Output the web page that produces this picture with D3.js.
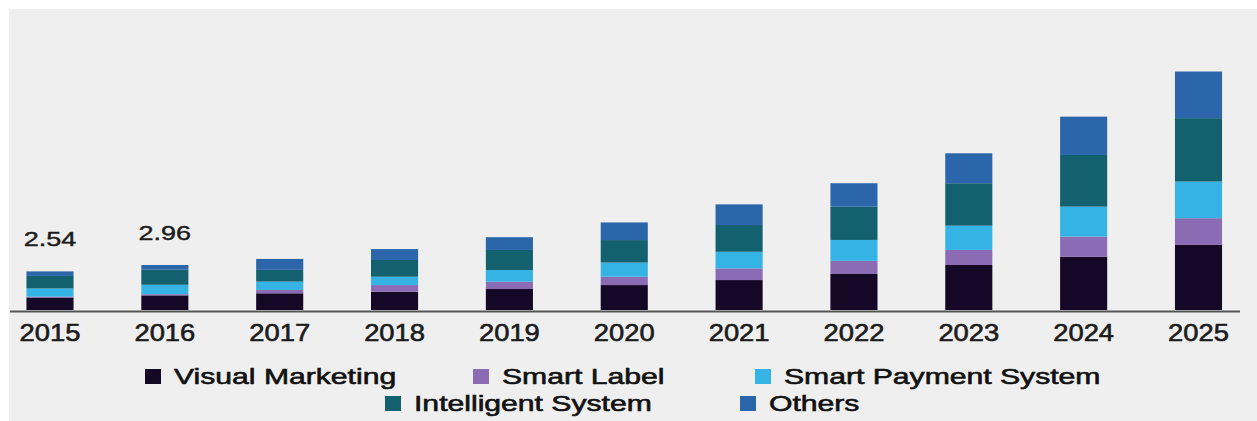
<!DOCTYPE html>
<html>
<head>
<meta charset="utf-8">
<script src="https://cdn.jsdelivr.net/npm/d3@7/dist/d3.min.js"></script>
<style>
  html, body { margin: 0; padding: 0; background: #ffffff; }
  svg { display: block; }
  .year { font-family: "Liberation Sans", Arial, sans-serif; font-size: 24px; fill: #1b1b1b; stroke: #1b1b1b; stroke-width: 0.6px; }
  .total { font-family: "Liberation Sans", Arial, sans-serif; font-size: 20px; fill: #1b1b1b; stroke: #1b1b1b; stroke-width: 0.4px; }
  .legend text { font-family: "Liberation Sans", Arial, sans-serif; font-size: 22px; fill: #111; stroke: #111; stroke-width: 0.6px; }
</style>
</head>
<body>
<div id="chart"></div>
<script>
// categories and values (USD billion)
var years = ["2015", "2016", "2017", "2018", "2019", "2020", "2021", "2022", "2023", "2024", "2025"];
var visualMarketing   = [0.82, 0.96, 1.10, 1.20, 1.38, 1.64, 1.97, 2.37, 2.96, 3.51, 4.28];
var smartLabel        = [0.06, 0.08, 0.22, 0.44, 0.48, 0.55, 0.77, 0.86, 0.99, 1.32, 1.76];
var smartPayment      = [0.54, 0.62, 0.55, 0.55, 0.77, 0.93, 1.09, 1.38, 1.60, 1.97, 2.41];
var intelligentSystem = [0.82, 1.00, 0.77, 1.10, 1.32, 1.48, 1.76, 2.19, 2.79, 3.40, 4.17];
var others            = [0.30, 0.30, 0.72, 0.72, 0.84, 1.16, 1.36, 1.54, 1.97, 2.52, 3.07];

var seriesNames = ["Visual Marketing", "Smart Label", "Smart Payment System", "Intelligent System", "Others"];
var seriesKeys = ["vm", "sl", "sp", "is", "ot"];
var seriesColors = ["#150826", "#8a6bb4", "#35b3e4", "#13606e", "#2b66ab"];

// only the first two totals are printed on the chart
var totalLabels = ["2.54", "2.96"];

var W = 1257, H = 421;

var svg = d3.select("#chart").append("svg")
  .attr("width", W)
  .attr("height", H);

// grey panel with thin white border top/left
svg.append("rect")
  .attr("x", 9).attr("y", 9)
  .attr("width", W - 9).attr("height", H - 9)
  .attr("fill", "#efefef");

// build rows for the stack
var rows = years.map(function (y, i) {
  return {
    year: y,
    vm: visualMarketing[i],
    sl: smartLabel[i],
    sp: smartPayment[i],
    is: intelligentSystem[i],
    ot: others[i]
  };
});

var stacked = d3.stack().keys(seriesKeys)(rows);

// scales
var step = 114.85;
var x = d3.scaleBand()
  .domain(years)
  .range([50 - step / 2, 50 + step * (years.length - 0.5)])
  .paddingInner(0.59)
  .paddingOuter(0.295);

var y = d3.scaleLinear()
  .domain([0, 16])
  .range([310, 310 - 16 * 15.2]);

var color = d3.scaleOrdinal().domain(seriesKeys).range(seriesColors);

// bars
svg.append("g")
  .selectAll("g")
  .data(stacked)
  .join("g")
  .attr("fill", function (d) { return color(d.key); })
  .selectAll("rect")
  .data(function (d) { return d; })
  .join("rect")
  .attr("x", function (d) { return x(d.data.year); })
  .attr("y", function (d) { return y(d[1]); })
  .attr("height", function (d) { return y(d[0]) - y(d[1]); })
  .attr("width", x.bandwidth());

// axis baseline
svg.append("line")
  .attr("x1", 10).attr("x2", 1240)
  .attr("y1", y(0) + 1.5).attr("y2", y(0) + 1.5)
  .attr("stroke", "#555")
  .attr("stroke-width", 2);

// year labels
svg.append("g")
  .selectAll("text")
  .data(years)
  .join("text")
  .attr("class", "year")
  .attr("text-anchor", "middle")
  .attr("transform", function (d) {
    return "translate(" + (x(d) + x.bandwidth() / 2) + ",341) scale(1.14,1)";
  })
  .text(function (d) { return d; });

// total labels above the first bars
svg.append("g")
  .selectAll("text")
  .data(totalLabels)
  .join("text")
  .attr("class", "total")
  .attr("text-anchor", "middle")
  .attr("transform", function (d, i) {
    return "translate(" + (x(years[i]) + x.bandwidth() / 2) + "," + (y(+d) - 25) + ") scale(1.35,1)";
  })
  .text(function (d) { return d; });

// legend
var legendPos = [
  { sx: 145, row: 0 },
  { sx: 473, row: 0 },
  { sx: 755, row: 0 },
  { sx: 385, row: 1 },
  { sx: 740, row: 1 }
];
var rowBase = [384, 411];

var legend = svg.append("g").attr("class", "legend")
  .selectAll("g")
  .data(seriesNames)
  .join("g");

legend.append("rect")
  .attr("x", function (d, i) { return legendPos[i].sx; })
  .attr("y", function (d, i) { return rowBase[legendPos[i].row] - 15; })
  .attr("width", 16)
  .attr("height", 15)
  .attr("fill", function (d, i) { return seriesColors[i]; });

legend.append("text")
  .attr("transform", function (d, i) {
    return "translate(" + (legendPos[i].sx + 29) + "," + rowBase[legendPos[i].row] + ") scale(1.37,1)";
  })
  .text(function (d) { return d; });
</script>
</body>
</html>
